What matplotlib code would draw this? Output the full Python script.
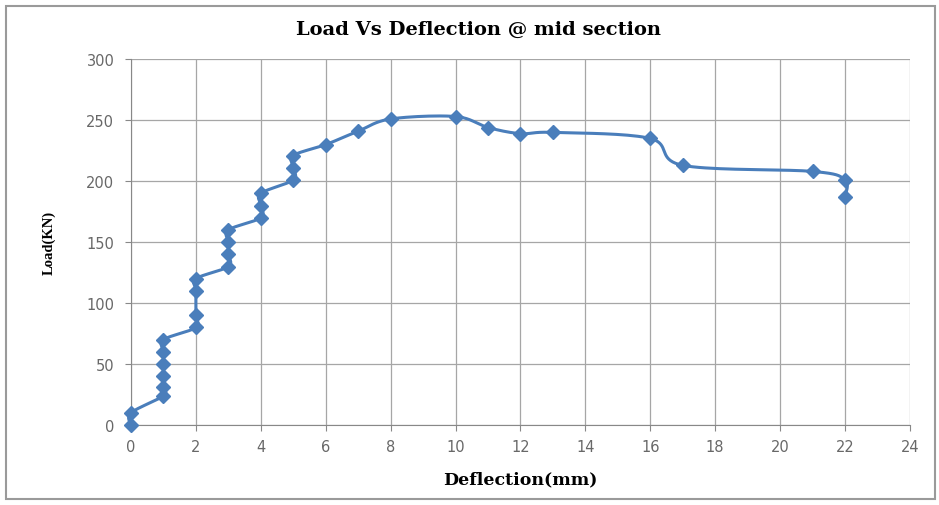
import numpy as np
import matplotlib.pyplot as plt
from matplotlib.patches import Rectangle

# Load vs deflection readings (mm, kN)
deflection = [0, 0, 1, 1, 1, 1, 1, 1, 2, 2, 2, 2, 3, 3, 3, 3, 4, 4, 4,
              5, 5, 5, 6, 7, 8, 10, 11, 12, 13, 16, 17, 21, 22, 22]
load = [0, 10, 24, 31, 40, 50, 60, 70, 80, 90, 110, 120, 130, 140, 150, 160,
        170, 180, 190, 201, 211, 221, 230, 241, 251, 253, 244, 239, 240, 235,
        213, 208, 201, 187]
x_ticks = list(range(0, 25, 2))
y_ticks = list(range(0, 301, 50))


# Excel-like smoothed line (cardinal bezier between points)
def smooth_line(xs, ys, n=20):
    xs = np.asarray(xs, float)
    ys = np.asarray(ys, float)
    px, py = [], []
    k = len(xs)
    for i in range(k - 1):
        x0, y0 = (xs[i - 1], ys[i - 1]) if i > 0 else (xs[i], ys[i])
        x1, y1 = xs[i], ys[i]
        x2, y2 = xs[i + 1], ys[i + 1]
        x3, y3 = (xs[i + 2], ys[i + 2]) if i + 2 < k else (x2, y2)
        c1x, c1y = x1 + (x2 - x0) / 6, y1 + (y2 - y0) / 6
        c2x, c2y = x2 - (x3 - x1) / 6, y2 - (y3 - y1) / 6
        t = np.linspace(0, 1, n)
        bx = (1-t)**3*x1 + 3*(1-t)**2*t*c1x + 3*(1-t)*t**2*c2x + t**3*x2
        by = (1-t)**3*y1 + 3*(1-t)**2*t*c1y + 3*(1-t)*t**2*c2y + t**3*y2
        px.extend(bx)
        py.extend(by)
    return px, py


fig = plt.figure(figsize=(9.39, 5.06), dpi=100)
fig.patches.append(Rectangle((0.006, 0.012), 0.99, 0.975, transform=fig.transFigure,
                             fill=False, edgecolor='#9a9a9a', linewidth=1.5))
ax = fig.add_axes([0.1395, 0.158, 0.8295, 0.723])

sx, sy = smooth_line(deflection, load)
ax.plot(sx, sy, color='#4a7ebb', linewidth=2.2, zorder=3, clip_on=False)
ax.plot(deflection, load, linestyle='none', marker='D', markersize=7,
        color='#4a7ebb', zorder=4, clip_on=False)

ax.set_xlim(0, 24)
ax.set_ylim(0, 300)
ax.set_xticks(x_ticks)
ax.set_yticks(y_ticks)
ax.grid(True, color='#a6a6a6', linewidth=0.9)
ax.set_axisbelow(True)
for s in ['top', 'right']:
    ax.spines[s].set_visible(False)
for s in ['left', 'bottom']:
    ax.spines[s].set_color('#888888')
ax.tick_params(axis='both', colors='#888888', labelcolor='#686868',
               labelsize=10.5, length=4, direction='out')
ax.tick_params(axis='x', pad=6)
ax.tick_params(axis='y', pad=8)
for lab in ax.get_xticklabels() + ax.get_yticklabels():
    lab.set_family('DejaVu Sans')

fig.text(0.51, 0.94, 'Load Vs Deflection @ mid section', family='DejaVu Serif',
         fontweight='bold', fontsize=14, ha='center', va='center')
ax.set_xlabel('Deflection(mm)', family='DejaVu Serif', fontweight='bold',
              fontsize=12.5, labelpad=12)
ax.set_ylabel('Load(KN)', family='Liberation Serif', fontweight='bold',
              fontsize=10.5, labelpad=22)

plt.savefig('out.png', dpi=100)
